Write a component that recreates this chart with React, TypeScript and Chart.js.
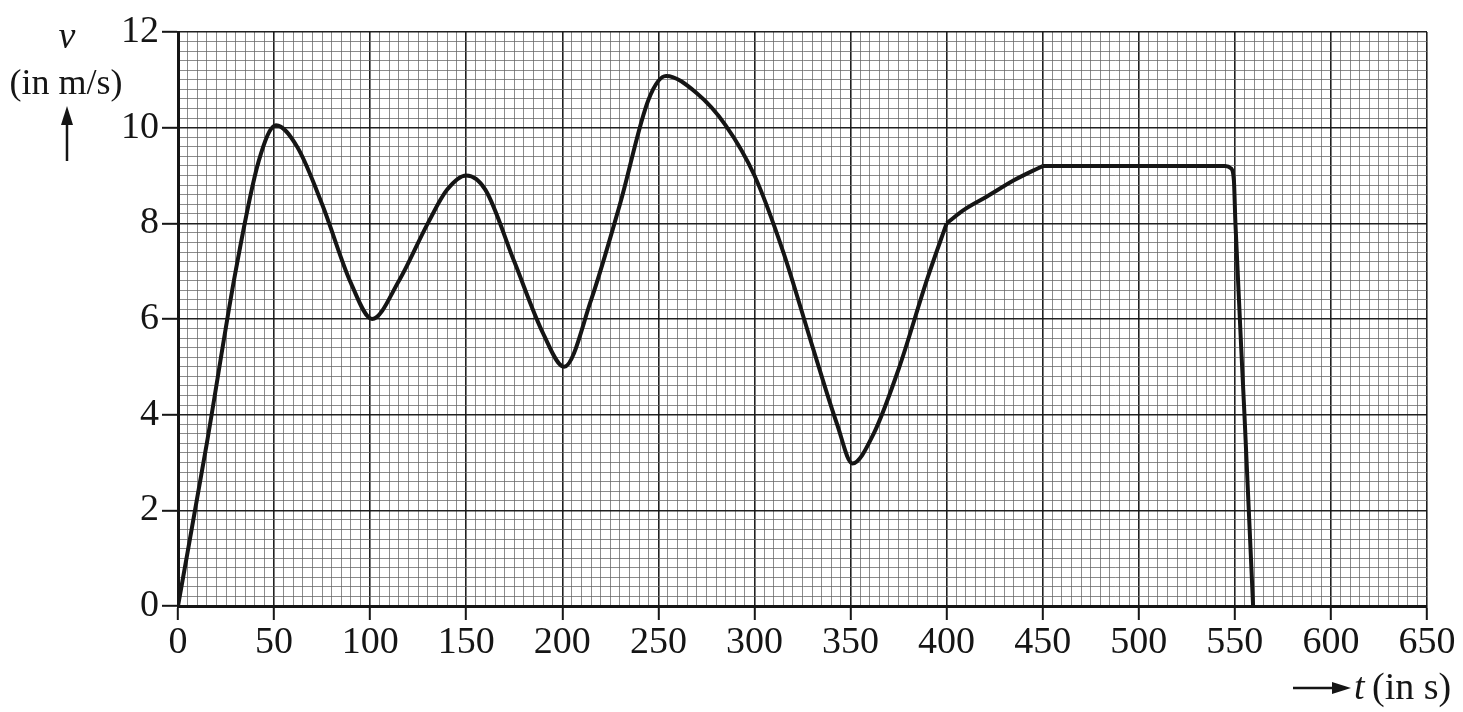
import React, { useEffect, useRef } from "react";
import { Chart, registerables } from "chart.js";
Chart.register(...registerables);

// Segment 1: 0 s → 400 s (smooth wave section)
const seg1Time = [0, 15, 30, 42, 51, 62, 75, 90, 101, 115, 130, 140, 150, 160, 175, 190, 201, 215, 230, 245, 254, 270, 285, 300, 315, 330, 343, 351, 362, 375, 390, 400];
const seg1Speed = [0, 3.4, 7.0, 9.3, 10.05, 9.6, 8.4, 6.75, 6.0, 6.8, 8.0, 8.7, 9.0, 8.7, 7.2, 5.7, 5.0, 6.4, 8.4, 10.6, 11.08, 10.72, 10.05, 9.0, 7.4, 5.45, 3.8, 2.98, 3.6, 4.95, 6.85, 8.0];
// Segment 2: 400 s → 450 s
const seg2Time = [400, 409, 421, 435, 450];
const seg2Speed = [8.0, 8.28, 8.56, 8.9, 9.2];
// Segment 3: 450 s → end
const seg3Time = [450, 500, 545, 548, 549.5, 550.3, 555, 559.5];
const seg3Speed = [9.2, 9.2, 9.2, 9.15, 8.9, 8.0, 4.0, 0];

const xTickMin = 0;
const xTickMax = 650;
const xMinorStep = 5;
const xMajorStep = 50;
const yTickMin = 0;
const yTickMax = 12;
const yMinorStep = 0.2;
const yMajorStep = 2;

const FONT = '"Liberation Serif", "Times New Roman", Times, serif';
const INK = "#151515";
const FS = 38;

const isMultiple = (v: number, step: number) => Math.abs(v / step - Math.round(v / step)) < 1e-6;

const toPoints = (ts: number[], vs: number[]) => ts.map((t, i) => ({ x: t, y: vs[i] }));

const labelsPlugin = {
  id: "axisLabels",
  afterDraw(chart: any) {
    const c = chart.ctx as CanvasRenderingContext2D;
    c.save();
    c.fillStyle = INK;
    c.strokeStyle = INK;
    c.textBaseline = "alphabetic";
    c.textAlign = "center";
    c.font = `italic ${FS}px ${FONT}`;
    c.fillText("v", 67, 48);
    c.font = `${FS - 2}px ${FONT}`;
    c.fillText("(in m/s)", 66, 94);
    // up arrow
    c.lineWidth = 2.5;
    c.beginPath();
    c.moveTo(67, 161);
    c.lineTo(67, 122);
    c.stroke();
    c.beginPath();
    c.moveTo(67, 106);
    c.lineTo(61, 125);
    c.lineTo(73, 125);
    c.closePath();
    c.fill();
    // right arrow
    c.beginPath();
    c.moveTo(1293, 688);
    c.lineTo(1335, 688);
    c.stroke();
    c.beginPath();
    c.moveTo(1351, 688);
    c.lineTo(1332, 682);
    c.lineTo(1332, 694);
    c.closePath();
    c.fill();
    c.textAlign = "left";
    c.font = `italic ${FS}px ${FONT}`;
    c.fillText("t", 1354, 699);
    c.font = `${FS}px ${FONT}`;
    c.fillText("(in s)", 1372, 699);
    c.restore();
  },
};

export default function App() {
  const ref = useRef<HTMLCanvasElement>(null);
  useEffect(() => {
    document.body.style.margin = "0";
    const ctx = ref.current!.getContext("2d")!;
    const lineStyle = {
      borderColor: INK,
      borderWidth: 4,
      pointRadius: 0,
      fill: false,
      cubicInterpolationMode: "monotone" as const,
    };
    const gridColor = (ctx: any, step: number) =>
      ctx.tick && isMultiple(ctx.tick.value, step) ? "rgba(20,20,20,0.95)" : "rgba(100,100,100,0.75)";
    const gridWidth = (ctx: any, step: number) => (ctx.tick && isMultiple(ctx.tick.value, step) ? 1.6 : 1);
    const tickColor = (ctx: any, step: number) =>
      ctx.tick && isMultiple(ctx.tick.value, step) ? INK : "rgba(0,0,0,0)";

    const chart = new Chart(ctx, {
      type: "line",
      data: {
        datasets: [
          { data: toPoints(seg1Time, seg1Speed), ...lineStyle },
          { data: toPoints(seg2Time, seg2Speed), ...lineStyle },
          { data: toPoints(seg3Time, seg3Speed), ...lineStyle },
        ],
      },
      options: {
        animation: false,
        responsive: false,
        layout: { padding: { top: 32, right: 36, left: 0, bottom: 0 } },
        plugins: { legend: { display: false }, tooltip: { enabled: false } },
        scales: {
          x: {
            type: "linear",
            min: xTickMin,
            max: xTickMax,
            ticks: {
              stepSize: xMinorStep,
              autoSkip: false,
              maxRotation: 0,
              minRotation: 0,
              padding: 0,
              color: INK,
              font: { family: FONT, size: FS },
              callback: (v: any) => (isMultiple(Number(v), xMajorStep) ? String(v) : ""),
            },
            grid: {
              color: (c: any) => gridColor(c, xMajorStep),
              lineWidth: (c: any) => gridWidth(c, xMajorStep),
              tickColor: (c: any) => tickColor(c, xMajorStep),
              tickLength: 14,
              tickWidth: 2,
            },
            border: { color: INK, width: 3 },
            afterFit: (s: any) => {
              s.height = 106;
            },
          },
          y: {
            type: "linear",
            min: yTickMin,
            max: yTickMax,
            ticks: {
              stepSize: yMinorStep,
              autoSkip: false,
              padding: 3,
              color: INK,
              font: { family: FONT, size: FS },
              callback: (v: any) => (isMultiple(Number(v), yMajorStep) ? String(Math.round(Number(v))) : ""),
            },
            grid: {
              color: (c: any) => gridColor(c, yMajorStep),
              lineWidth: (c: any) => gridWidth(c, yMajorStep),
              tickColor: (c: any) => tickColor(c, yMajorStep),
              tickLength: 16,
              tickWidth: 2,
            },
            border: { color: INK, width: 3 },
            afterFit: (s: any) => {
              s.width = 178;
            },
          },
        },
      },
      plugins: [labelsPlugin],
    });
    return () => chart.destroy();
  }, []);
  return (
    <div style={{ position: "fixed", left: 0, top: 0, width: 1463, height: 712, background: "#fff" }}>
      <canvas ref={ref} width={1463} height={712} style={{ width: 1463, height: 712, display: "block" }} />
    </div>
  );
}
